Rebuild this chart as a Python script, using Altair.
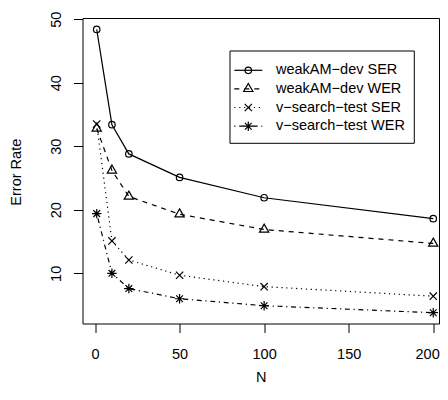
import altair as alt
import pandas as pd

# ---- data ----
N = [1, 10, 20, 50, 100, 200]
weak_ser = [48.4, 33.4, 28.8, 25.1, 21.9, 18.6]
weak_wer = [32.8, 26.2, 22.1, 19.3, 16.9, 14.7]
vs_ser = [33.5, 15.1, 12.1, 9.7, 7.9, 6.4]
vs_wer = [19.4, 10.0, 7.6, 6.0, 4.9, 3.8]
series_names = ["weakAM−dev SER", "weakAM−dev WER", "v−search−test SER", "v−search−test WER"]
x_ticks = [0, 50, 100, 150, 200]
y_ticks = [10, 20, 30, 40, 50]

FONT = "Liberation Sans"
FS = 14.5
W, H = 356.5, 305.5

series_values = [weak_ser, weak_wer, vs_ser, vs_wer]
dashes = [None, [5, 5], [1.2, 3.7], [1.2, 3.7, 4.9, 3.7]]
shapes = [
    ("circle", 42),
    ("M0,-1L0.866,0.5L-0.866,0.5Z", 115),
    ("M-1,-1L1,1M-1,1L1,-1", 53),
    ("M-1,-1L1,1M-1,1L1,-1M0,-1.414L0,1.414M-1.414,0L1.414,0", 45),
]

xscale = alt.Scale(domain=[-7.4, 203.4], nice=False, zero=False)
yscale = alt.Scale(domain=[2.1, 50.2], nice=False, zero=False)

xaxis = alt.Axis(values=x_ticks, title="N", tickSize=9, labelPadding=15.4,
                 labelFlush=8, labelFlushOffset=6,
                 titleY=57.5, titleBaseline="alphabetic")
yaxis = alt.Axis(values=y_ticks, title="Error Rate", tickSize=9, labelAngle=270,
                 labelAlign="center", labelBaseline="alphabetic", labelPadding=12.8,
                 labelFlush=False, titleAngle=270, titleX=-61.8, titleY=153.7,
                 titleAlign="center", titleBaseline="alphabetic")

enc_x = alt.X("N:Q", scale=xscale, axis=xaxis)
enc_y = alt.Y("rate:Q", scale=yscale, axis=yaxis)

layers = []
for i, (name, vals) in enumerate(zip(series_names, series_values)):
    df = pd.DataFrame({"N": N, "rate": vals})
    lk = dict(color="black", strokeWidth=1.2)
    if dashes[i]:
        lk["strokeDash"] = dashes[i]
    layers.append(alt.Chart(df).mark_line(**lk).encode(x=enc_x, y=enc_y))
    shp, sz = shapes[i]
    layers.append(alt.Chart(df).mark_point(shape=shp, size=sz, filled=False,
                                           color="black", strokeWidth=1.2, opacity=1)
                  .encode(x=enc_x, y=enc_y))

# ---- legend (drawn manually to get line + marker symbols) ----
one = pd.DataFrame({"a": [0]})
layers.append(alt.Chart(one).mark_rect(fill="white", stroke="black", strokeWidth=1)
              .encode(x=alt.value(147.5), x2=alt.value(331.8), y=alt.value(33), y2=alt.value(125.3)))
row_y = [52.3, 70.8, 89.5, 108.2]
for i, name in enumerate(series_names):
    lk = dict(color="black", strokeWidth=1.2)
    if dashes[i]:
        lk["strokeDash"] = dashes[i]
    layers.append(alt.Chart(one).mark_rule(**lk)
                  .encode(x=alt.value(151.8), x2=alt.value(179.8), y=alt.value(row_y[i])))
    shp, sz = shapes[i]
    layers.append(alt.Chart(one).mark_point(shape=shp, size=sz, filled=False,
                                            color="black", strokeWidth=1.2, opacity=1)
                  .encode(x=alt.value(165.8), y=alt.value(row_y[i])))
    layers.append(alt.Chart(one).mark_text(align="left", baseline="middle", font=FONT,
                                           fontSize=FS, color="black")
                  .encode(x=alt.value(193.5), y=alt.value(row_y[i]), text=alt.value(name)))

chart = alt.layer(*layers).properties(
    width=W, height=H,
    autosize=alt.AutoSizeParams(type="none"),
    padding={"left": 74.5, "top": 10, "right": 1, "bottom": 62.5},
).configure_view(stroke="black", strokeWidth=1).configure_axis(
    domain=False, grid=False, tickColor="black", tickWidth=1,
    labelColor="black", labelFont=FONT, labelFontSize=FS,
    titleColor="black", titleFont=FONT, titleFontSize=FS, titleFontWeight="normal",
)

chart.save("out.html", embed_options={"renderer": "svg", "actions": False})
